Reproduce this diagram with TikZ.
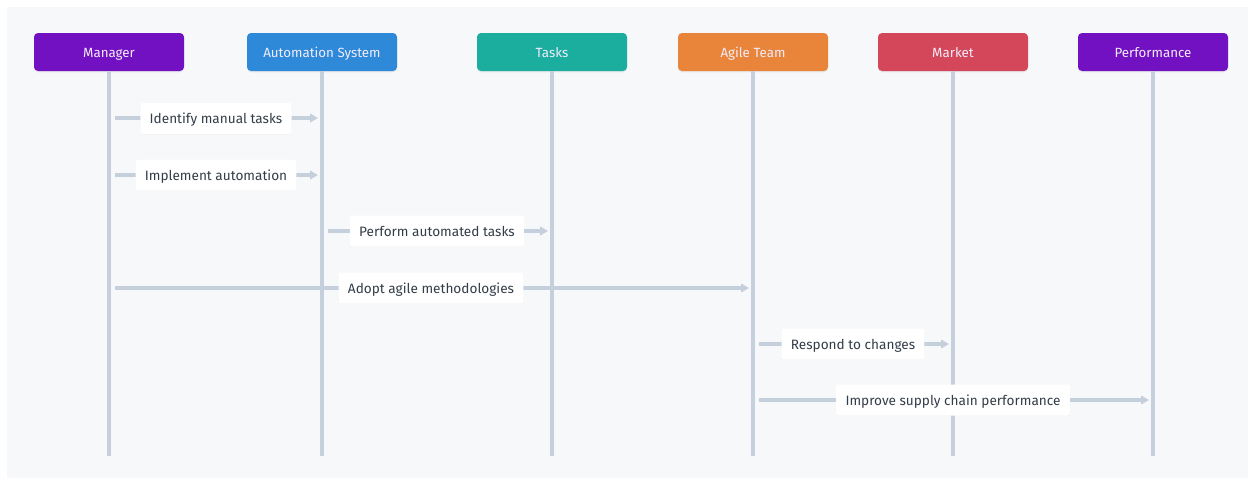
\documentclass[tikz,border=0pt]{standalone}
\usepackage{fontspec}
\setmainfont{Fira Sans}
\usetikzlibrary{arrows.meta,shadows}
\definecolor{bg}{HTML}{F7F8FA}
\definecolor{life}{HTML}{C5D0DC}
\definecolor{cMan}{HTML}{7211C1}
\definecolor{cAut}{HTML}{2E89D9}
\definecolor{cTask}{HTML}{1BAE9F}
\definecolor{cAgile}{HTML}{E9853A}
\definecolor{cMkt}{HTML}{D4475B}
\definecolor{cPerf}{HTML}{7211C1}
\definecolor{txt}{HTML}{333D48}
\definecolor{htxt}{HTML}{F3ECFA}
\tikzset{
  actor/.style={rectangle, rounded corners=3pt, minimum width=150*0.75pt, minimum height=38*0.75pt, inner sep=0pt, text=htxt, text height=9pt, text depth=1pt, font=\fontsize{10pt}{12pt}\selectfont, drop shadow={opacity=0.12, shadow xshift=0pt, shadow yshift=-1pt}},
  lifeline/.style={draw=life, line width=2.4pt},
  msg/.style={draw=life, line width=2.4pt, -{Triangle[length=6pt,width=6.5pt]}},
  lbl/.style={fill=white, text=txt, rounded corners=1.5pt, inner xsep=7pt, inner ysep=0pt, minimum height=31*0.75pt, text height=9pt, text depth=1pt, font=\fontsize{10.2pt}{12pt}\selectfont, drop shadow={opacity=0.06, shadow xshift=0pt, shadow yshift=-0.5pt}}
}
\begin{document}
\begin{tikzpicture}[x=0.75pt,y=-0.75pt]
\useasboundingbox (0,0) rectangle (1250,479);
\fill[white] (0,0) rectangle (1250,479);
\fill[bg] (7,7) rectangle (1248,478);
% actors
\node[actor, fill=cMan] (man) at (109,52) {Manager};
\node[actor, fill=cAut] (aut) at (322,52) {Automation System};
\node[actor, fill=cTask] (task) at (552,52) {Tasks};
\node[actor, fill=cAgile] (agile) at (753,52) {Agile Team};
\node[actor, fill=cMkt] (mkt) at (953,52) {Market};
\node[actor, fill=cPerf] (perf) at (1153,52) {Performance};
% lifeline ends
\coordinate (manE) at (109,456);
\coordinate (autE) at (322,456);
\coordinate (taskE) at (552,456);
\coordinate (agileE) at (753,456);
\coordinate (mktE) at (953,456);
\coordinate (perfE) at (1153,456);
\draw[lifeline] (man.south) -- (manE);
\draw[lifeline] (aut.south) -- (autE);
\draw[lifeline] (task.south) -- (taskE);
\draw[lifeline] (agile.south) -- (agileE);
\draw[lifeline] (mkt.south) -- (mktE);
\draw[lifeline] (perf.south) -- (perfE);
% message endpoints
\coordinate (m1s) at (115,118); \coordinate (m1e) at (318,118);
\coordinate (m2s) at (115,175); \coordinate (m2e) at (318,175);
\coordinate (m3s) at (328,231); \coordinate (m3e) at (548,231);
\coordinate (m4s) at (115,288); \coordinate (m4e) at (749,288);
\coordinate (m5s) at (759,344); \coordinate (m5e) at (949,344);
\coordinate (m6s) at (759,400); \coordinate (m6e) at (1149,400);
\draw[msg] (m1s) -- (m1e);
\draw[msg] (m2s) -- (m2e);
\draw[msg] (m3s) -- (m3e);
\draw[msg] (m4s) -- (m4e);
\draw[msg] (m5s) -- (m5e);
\draw[msg] (m6s) -- (m6e);
\node[lbl] (l1) at (216,118.5) {Identify manual tasks};
\node[lbl] (l2) at (216,175) {Implement automation};
\node[lbl] (l3) at (437,231) {Perform automated tasks};
\node[lbl] (l4) at (431,288) {Adopt agile methodologies};
\node[lbl] (l5) at (853,344) {Respond to changes};
\node[lbl] (l6) at (953,400) {Improve supply chain performance};
\end{tikzpicture}
\end{document}
